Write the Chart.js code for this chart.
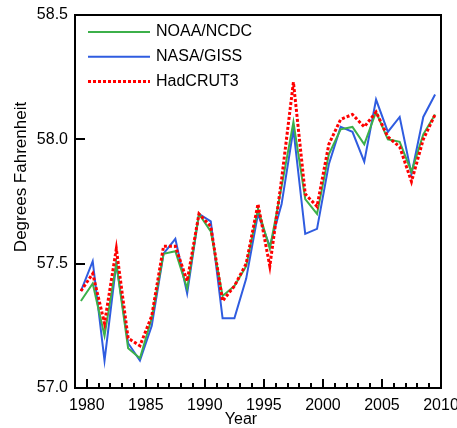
<!DOCTYPE html>
<html>
<head>
<meta charset="utf-8">
<script src="https://cdn.jsdelivr.net/npm/chart.js@4/dist/chart.umd.min.js"></script>
<style>
  html, body { margin: 0; padding: 0; background: #fff; }
  canvas { display: block; }
</style>
</head>
<body>
<canvas id="chart" width="457" height="428"></canvas>
<script>
'use strict';

// ── Data ──────────────────────────────────────────────────────────────────────

const years = [1979, 1980, 1981, 1982, 1983, 1984, 1985, 1986, 1987, 1988,
               1989, 1990, 1991, 1992, 1993, 1994, 1995, 1996, 1997, 1998,
               1999, 2000, 2001, 2002, 2003, 2004, 2005, 2006, 2007, 2008, 2009];

const noaa = [57.35, 57.42, 57.21, 57.50, 57.16, 57.12, 57.28, 57.54, 57.55, 57.40,
              57.70, 57.63, 57.37, 57.41, 57.49, 57.72, 57.56, 57.81, 58.07, 57.76,
              57.70, 57.94, 58.04, 58.05, 57.98, 58.11, 58.00, 57.99, 57.87, 58.02, 58.10];

const nasa = [57.39, 57.51, 57.11, 57.50, 57.18, 57.11, 57.25, 57.54, 57.60, 57.38,
              57.70, 57.67, 57.28, 57.28, 57.44, 57.70, 57.57, 57.74, 58.04, 57.62,
              57.64, 57.90, 58.05, 58.03, 57.91, 58.16, 58.03, 58.09, 57.86, 58.09, 58.18];

const hadcrut = [57.39, 57.46, 57.26, 57.56, 57.20, 57.17, 57.29, 57.57, 57.57, 57.43,
                 57.70, 57.65, 57.35, 57.41, 57.50, 57.74, 57.49, 57.84, 58.23, 57.78,
                 57.73, 57.98, 58.08, 58.10, 58.05, 58.11, 58.01, 57.97, 57.83, 58.00, 58.10];

const xTicks = [1980, 1985, 1990, 1995, 2000, 2005, 2010];
const yTicks = [57.0, 57.5, 58.0, 58.5];

// ── Helpers ───────────────────────────────────────────────────────────────────

const FONT = '"Liberation Sans", Arial, sans-serif';
const pts  = vals => vals.map((v, i) => ({ x: years[i] + 0.5, y: v }));

// inward ticks, frame, legend and axis titles
const framePlugin = {
  id: 'frame',
  afterDraw(chart) {
    const ctx = chart.ctx;
    const a   = chart.chartArea;
    const xs  = chart.scales.x;
    const ys  = chart.scales.y;
    ctx.save();
    ctx.setLineDash([]);
    ctx.fillStyle = '#000';

    for (let yr = 1980; yr <= 2010; yr++) {
      const px  = Math.round(xs.getPixelForValue(yr));
      const len = yr % 5 === 0 ? 9 : 5;
      ctx.fillRect(px - 1, a.bottom - len, 2, len);
    }
    yTicks.forEach(v => {
      const py = Math.round(ys.getPixelForValue(v));
      ctx.fillRect(a.left, py - 1, 10, 2);
    });

    ctx.strokeStyle = '#000';
    ctx.lineWidth = 2;
    ctx.strokeRect(a.left, a.top, a.right - a.left, a.bottom - a.top);

    // legend
    ctx.font = '16px ' + FONT;
    ctx.textBaseline = 'middle';
    chart.data.datasets.forEach((ds, i) => {
      const ly = 32 + i * 24.7;
      ctx.beginPath();
      ctx.strokeStyle = ds.borderColor;
      ctx.lineWidth   = ds.borderWidth;
      ctx.setLineDash(ds.borderDash || []);
      ctx.moveTo(88, ly);
      ctx.lineTo(150, ly);
      ctx.stroke();
      ctx.setLineDash([]);
      ctx.fillText(ds.label, 156, ly);
    });

    // axis titles
    ctx.textAlign = 'center';
    ctx.fillText('Year', 241, 420);
    ctx.translate(21, 177);
    ctx.rotate(-Math.PI / 2);
    ctx.font = '17px ' + FONT;
    ctx.fillText('Degrees Fahrenheit', 0, 0);
    ctx.restore();
  },
};

// ── Chart ─────────────────────────────────────────────────────────────────────

Chart.defaults.font.family = FONT;
Chart.defaults.font.size   = 16;
Chart.defaults.color       = '#000';

new Chart(document.getElementById('chart'), {
  type: 'line',
  data: {
    datasets: [
      { label: 'NOAA/NCDC', data: pts(noaa),    borderColor: '#3cb04a', borderWidth: 2, order: 1 },
      { label: 'NASA/GISS', data: pts(nasa),    borderColor: '#2f5ce0', borderWidth: 2, order: 2 },
      { label: 'HadCRUT3',  data: pts(hadcrut), borderColor: '#ff0000', borderWidth: 3, borderDash: [3, 2], order: 0 },
    ],
  },
  options: {
    responsive: false,
    animation: false,
    layout: { padding: { top: 15, right: 16, left: 0, bottom: 0 } },
    elements: { point: { radius: 0 }, line: { tension: 0 } },
    plugins: { legend: { display: false }, tooltip: { enabled: false } },
    scales: {
      x: {
        type: 'linear',
        min: 1979,
        max: 2010,
        grid: { display: false, drawTicks: false },
        border: { display: false },
        afterBuildTicks: s => { s.ticks = xTicks.map(v => ({ value: v })); },
        ticks: { padding: 8, maxRotation: 0, callback: v => String(v) },
        afterFit: s => { s.height = 40; s.paddingLeft = 0; s.paddingRight = 0; },
      },
      y: {
        min: 57,
        max: 58.5,
        grid: { display: false, drawTicks: false },
        border: { display: false },
        afterBuildTicks: s => { s.ticks = yTicks.map(v => ({ value: v })); },
        ticks: { padding: 7, callback: v => Number(v).toFixed(1) },
        afterFit: s => { s.width = 75; s.paddingTop = 0; s.paddingBottom = 0; },
      },
    },
  },
  plugins: [framePlugin],
});
</script>
</body>
</html>
